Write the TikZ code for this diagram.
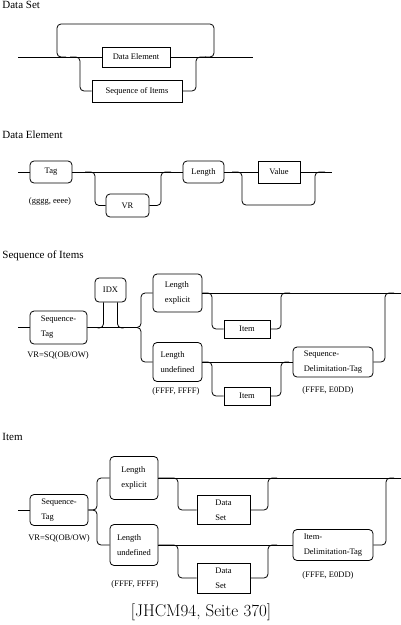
\documentclass[tikz,border=0pt]{standalone}
\usepackage{fontspec}
\newfontfamily\dgfont{Liberation Serif}
\newcommand\dglbl{\dgfont\fontsize{8.5}{15}\selectfont}
\newcommand\dgttl{\dgfont\fontsize{11}{13}\selectfont}
\begin{document}
\begin{tikzpicture}[x=1pt,y=-1pt,
  line width=0.8pt,
  every node/.style={inner sep=0pt},
  conn/.style={rounded corners=4pt},
  rbox/.style={draw, rounded corners=4pt, align=left, font=\dglbl},
  sbox/.style={draw, align=left, font=\dglbl},
  title/.style={anchor=north west, font=\dgttl},
  note/.style={font=\dglbl}]
\useasboundingbox (0,0) rectangle (401,625);

% ---------------- Data Set ----------------
\node[title] (t1) at (2,1) {Data Set};
\node[sbox, minimum width=68, minimum height=20] (de) at (136,57) {Data Element};
\node[sbox, minimum width=90, minimum height=22] (soi) at (137,91) {Sequence of Items};
\coordinate (ds-in) at (18,57);
\coordinate (ds-out) at (253,57);
\coordinate (ds-a) at (66,57);
\coordinate (ds-b) at (205,57);
\coordinate (ds-c) at (70,57);
\coordinate (ds-d) at (206,57);
\draw (ds-in) -- (de.west);
\draw (de.east) -- (ds-out);
\draw[conn] (ds-a) -- (57,57) -- (57,24) -- (214,24) -- (214,57) -- (ds-b);
\draw[conn] (ds-c) -- (80,57) -- (80,91) -- (soi.west);
\draw[conn] (soi.east) -- (196,91) -- (196,57) -- (ds-d);

% ---------------- Data Element ----------------
\node[title] (t2) at (2,130) {Data Element};
\node[rbox, minimum width=42, minimum height=22] (tag) at (51,172) {Tag};
\node[note] (tagl) at (50,201) {(gggg, eeee)};
\node[rbox, minimum width=43, minimum height=23] (vr) at (127.5,205.5) {VR};
\node[rbox, minimum width=41, minimum height=22] (len) at (203.5,172) {Length};
\node[sbox, minimum width=42, minimum height=22] (val) at (279,172) {Value};
\coordinate (de-in) at (18,172);
\coordinate (de-out) at (332,172);
\coordinate (de-a) at (85,172);
\coordinate (de-b) at (171,172);
\coordinate (de-c) at (232,172);
\coordinate (de-d) at (325,172);
\draw (de-in) -- (tag.west);
\draw (tag.east) -- (len.west);
\draw (len.east) -- (val.west);
\draw (val.east) -- (de-out);
\draw[conn] (de-a) -- (95,172) -- (95,205.5) -- (vr.west);
\draw[conn] (vr.east) -- (161,205.5) -- (161,172) -- (de-b);
\draw[conn] (de-c) -- (242,172) -- (242,205) -- (315,205) -- (315,172) -- (de-d);

% ---------------- Sequence of Items ----------------
\node[title] (t3) at (2,250) {Sequence of Items};
\node[rbox, minimum width=57, minimum height=33] (sqt) at (58.5,327.5) {Sequence-\\Tag};
\node[note] (sqtl) at (58,355) {VR=SQ(OB/OW)};
\node[rbox, minimum width=31, minimum height=24] (idx) at (110.5,290) {IDX};
\node[rbox, minimum width=49, minimum height=38] (le) at (177.5,293) {Length\\explicit};
\node[rbox, minimum width=49, minimum height=39] (lu) at (177.5,362) {Length\\undefined};
\node[note] (lul) at (176,391) {(FFFF, FFFF)};
\node[sbox, minimum width=46, minimum height=18] (it1) at (247,329) {Item};
\node[sbox, minimum width=46, minimum height=18] (it2) at (247,396) {Item};
\node[rbox, minimum width=80, minimum height=30] (sdt) at (333,362) {Sequence-\\Delimitation-Tag};
\node[note] (sdtl) at (328,390) {(FFFE, E0DD)};
\coordinate (si-in) at (18,327.5);
\coordinate (si-out) at (401,293);
\coordinate (si-b) at (290,293);
\coordinate (si-c) at (289,362);
\coordinate (si-d) at (394,293);
\draw (si-in) -- (sqt.west);
\draw[conn] (sqt.east) -- (141,327.5) -- (141,293) -- (le.west);
\draw[conn] (sqt.east) -- (141,327.5) -- (141,362) -- (lu.west);
\draw[conn] ([xshift=-7pt]idx.south) -- ++(0,25.5) -- ++(-6,0);
\draw[conn] ([xshift=7pt]idx.south) -- ++(0,25.5) -- ++(6,0);
\draw (le.east) -- (si-out);
\draw[conn] (le.east) -- (212,293) -- (212,329) -- (it1.west);
\draw[conn] (it1.east) -- (281,329) -- (281,293) -- (si-b);
\draw (lu.east) -- (sdt.west);
\draw[conn] (lu.east) -- (212,362) -- (212,396) -- (it2.west);
\draw[conn] (it2.east) -- (281,396) -- (281,362) -- (si-c);
\draw[conn] (sdt.east) -- (385,362) -- (385,293) -- (si-d);

% ---------------- Item ----------------
\node[title] (t4) at (2,433) {Item};
\node[rbox, minimum width=58, minimum height=31] (sqt2) at (59,510) {Sequence-\\Tag};
\node[note] (sqt2l) at (59,538) {VR=SQ(OB/OW)};
\node[rbox, minimum width=48, minimum height=43] (le2) at (134,478) {Length\\explicit};
\node[rbox, minimum width=48, minimum height=41] (lu2) at (134,545) {Length\\undefined};
\node[note] (lu2l) at (135,584) {(FFFF, FFFF)};
\node[sbox, minimum width=53, minimum height=29] (ds1) at (223.5,510) {Data\\Set};
\node[sbox, minimum width=53, minimum height=30] (ds2) at (223.5,578) {Data\\Set};
\node[rbox, minimum width=80, minimum height=31] (idt) at (333,545) {Item-\\Delimitation-Tag};
\node[note] (idtl) at (328,575) {(FFFE, E0DD)};
\coordinate (it-in) at (18,510);
\coordinate (it-out) at (401,478);
\coordinate (it-b) at (277,478);
\coordinate (it-c) at (277,545);
\coordinate (it-d) at (394,478);
\draw (it-in) -- (sqt2.west);
\draw[conn] (sqt2.east) -- (97,510) -- (97,478) -- (le2.west);
\draw[conn] (sqt2.east) -- (97,510) -- (97,545) -- (lu2.west);
\draw (le2.east) -- (it-out);
\draw[conn] (le2.east) -- (178,478) -- (178,510) -- (ds1.west);
\draw[conn] (ds1.east) -- (268,510) -- (268,478) -- (it-b);
\draw (lu2.east) -- (idt.west);
\draw[conn] (lu2.east) -- (178,545) -- (178,578) -- (ds2.west);
\draw[conn] (ds2.east) -- (268,578) -- (268,545) -- (it-c);
\draw[conn] (idt.east) -- (386,545) -- (386,478) -- (it-d);

\node[font=\fontsize{17}{20}\selectfont] (ref) at (201,612) {[JHCM94, Seite 370]};
\end{tikzpicture}
\end{document}
